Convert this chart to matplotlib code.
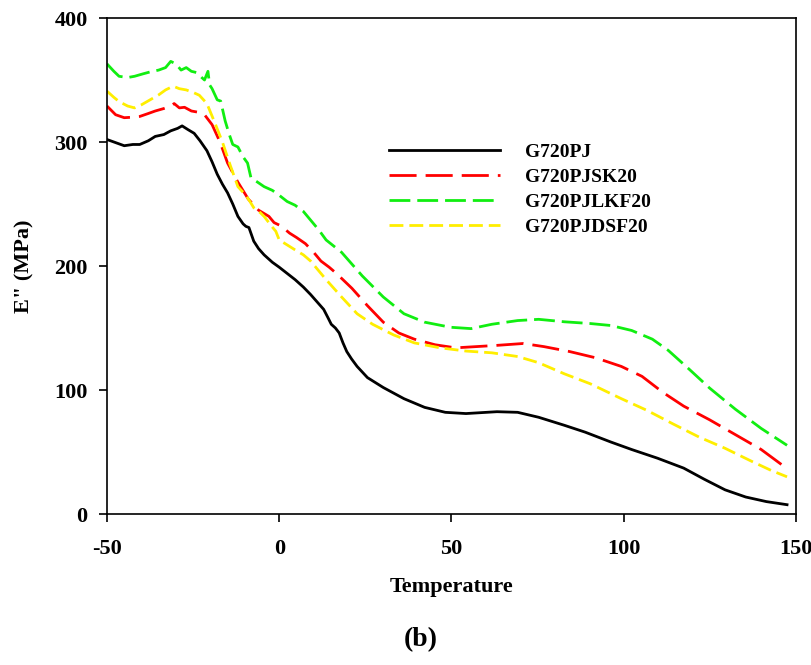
import matplotlib
matplotlib.use("Agg")
import matplotlib.pyplot as plt

plt.rcParams['font.family'] = ['Liberation Serif', 'DejaVu Serif']
plt.rcParams['font.weight'] = 'bold'
plt.rcParams['lines.scale_dashes'] = False

# ---- data ----
t_pj = [-50, -47, -45, -42.5, -40.5, -38, -36, -33.5, -31.5, -29.5, -28.2, -26.5, -24.7, -23, -21, -19.5, -18, -16.5, -15, -13.5, -12, -10.5, -9.7, -8.8, -7.4, -6, -4.4, -2, 0, 2.3, 4.6, 7, 9.1, 11, 12.9, 14.2, 15.1, 16.3, 17.4, 18.5, 19.6, 21, 22.6, 25.6, 30.2, 36.2, 42.2, 48.2, 54.2, 63.2, 69.2, 75.3, 82.8, 88.8, 96.3, 102.3, 109.8, 117.4, 123.4, 129.4, 135.4, 141.4, 147.4]
e_pj = [302, 299, 297, 298, 298, 301, 304.5, 306, 309, 311, 313, 310, 307, 301, 293, 284, 274, 266, 259, 250, 240, 234, 232, 231, 220, 214, 209, 203, 199, 194, 189, 183, 177, 171, 165, 158, 153, 150, 146, 138, 131, 125, 119, 110, 102, 93, 86, 82, 81, 82.5, 82, 78, 71.5, 66, 58, 52, 45, 37, 28, 19.5, 13.7, 10, 7.5]

t_sk = [-50, -47.5, -45, -42.5, -40.5, -38, -36, -33.5, -31.5, -30.5, -29, -27.5, -25.5, -23.5, -21.7, -19.5, -17.2, -15, -12, -9, -6, -3, -1.5, 0, 1.5, 3, 5, 7.6, 10, 12.1, 14.5, 16.6, 21.1, 25.6, 30.2, 34.7, 39.2, 45.2, 51.2, 57.2, 63.2, 70.8, 76.8, 84.3, 91.8, 99.3, 105.3, 111.4, 117.4, 124.9, 132.4, 139.9, 147.4]
e_sk = [329, 322, 319.6, 320, 320.6, 323, 325, 327, 329, 331, 327.5, 328, 325, 324, 322, 314, 300, 283, 267.6, 254, 245, 240, 235, 233, 230, 226.5, 223, 218, 211, 204, 199, 194, 182, 168, 154.7, 146, 141, 136.5, 134, 135, 136, 137.5, 135, 131, 126, 119, 111, 98, 87, 76, 64, 52, 36.6]

t_lkf = [-50, -48, -46.5, -44, -42, -39.5, -37.5, -35, -33, -31.5, -30, -28.5, -27, -25.5, -24, -22.5, -21.7, -20.7, -20.2, -19.5, -18, -17, -15.7, -14.5, -13.5, -12, -10.5, -9.2, -8.2, -6.5, -4.4, -2, 0, 2.3, 4.6, 7, 9.1, 11.5, 13.6, 18.1, 24.1, 30.2, 36.2, 42.2, 49.7, 55.7, 61.7, 69.2, 75.3, 82.8, 90.3, 96.3, 102.3, 108.3, 112.9, 118.9, 124.9, 132.4, 139.9, 147.4]
e_lkf = [363, 357, 353, 352, 353, 355, 356.5, 358, 360, 365, 363, 358, 360, 357, 356, 352, 350, 357, 346, 343, 334, 333, 317, 306, 298, 296, 288, 283, 271, 268, 264, 261, 257, 252, 249, 244, 237, 229, 221, 211, 192, 175, 161.5, 154.7, 150.6, 149.5, 153, 156, 157, 155, 153.6, 152, 148, 141, 132, 117, 101.6, 84.5, 69, 55.4]

t_dsf = [-50, -48, -46.5, -44, -42, -40, -37.5, -35, -33, -30.8, -29, -27, -25, -23.2, -21, -18.7, -16.5, -14.2, -12, -9.7, -8.5, -7.4, -5.5, -4.4, -2.2, -1, 0, 2.3, 4.6, 7, 9.1, 13.6, 18.1, 22.6, 27.1, 33.2, 39.2, 46.7, 54.2, 61.7, 69.2, 75.3, 82.8, 90.3, 99.3, 106.8, 114.4, 121.9, 129.4, 136.9, 142.9, 147.4]
e_dsf = [341, 336, 332.6, 329, 327.5, 330, 334, 338, 342, 345, 343, 342, 340, 337.7, 331, 315.5, 300, 281, 264, 257, 252, 247, 243, 240, 232, 228, 221, 217, 213, 209, 204, 189, 175, 161.5, 153, 144.4, 138, 134, 131.4, 130, 127, 122, 113, 105, 93, 83.5, 72.5, 62, 53, 42.8, 35, 30]

labels = ['G720PJ', 'G720PJSK20', 'G720PJLKF20', 'G720PJDSF20']
x_ticks = [-50, 0, 50, 100, 150]
y_ticks = [0, 100, 200, 300, 400]

# ---- figure ----
fig = plt.figure(figsize=(8.12, 6.65), dpi=100)
ax = fig.add_axes([107 / 812, 1 - 514 / 665, (796 - 107) / 812, (514 - 18) / 665])

lw = 2.0
l1, = ax.plot(t_pj, e_pj, color='black', lw=lw, label=labels[0])
l2, = ax.plot(t_sk, e_sk, color='#ff0000', lw=lw, dashes=(19.5, 6.5), label=labels[1])
l3, = ax.plot(t_lkf, e_lkf, color='#11ee11', lw=lw, dashes=(15, 5), label=labels[2])
l4, = ax.plot(t_dsf, e_dsf, color='#ffee00', lw=lw, dashes=(10, 4.3), label=labels[3])

ax.set_xlim(-50, 150)
ax.set_ylim(0, 400)
ax.set_xticks(x_ticks)
ax.set_yticks(y_ticks)
ax.set_xticklabels([str(v) for v in x_ticks])
ax.set_yticklabels([str(v) for v in y_ticks])
ax.tick_params(axis='both', direction='out', length=6, width=1.2, labelsize=16)
ax.tick_params(axis='x', pad=12)
ax.tick_params(axis='y', pad=8)
for s in ax.spines.values():
    s.set_linewidth(1.2)

ax.set_xlabel('Temperature', fontsize=16, fontweight='bold', labelpad=13)
ax.set_ylabel('E" (MPa)', fontsize=16, fontweight='bold', labelpad=14)

leg = ax.legend(handles=[l1, l2, l3, l4], loc='upper left', frameon=False,
                bbox_to_anchor=(389 / 812, 1 - 143 / 665), bbox_transform=fig.transFigure,
                prop={'family': 'Liberation Serif', 'weight': 'bold', 'size': 14},
                handlelength=5.7, handletextpad=1.3, labelspacing=0.38,
                borderpad=0, borderaxespad=0)

fig.text(421 / 812, 1 - 640 / 665, '(b)', ha='center', va='center', fontsize=20, fontweight='bold')

fig.savefig('out.png', dpi=100)
